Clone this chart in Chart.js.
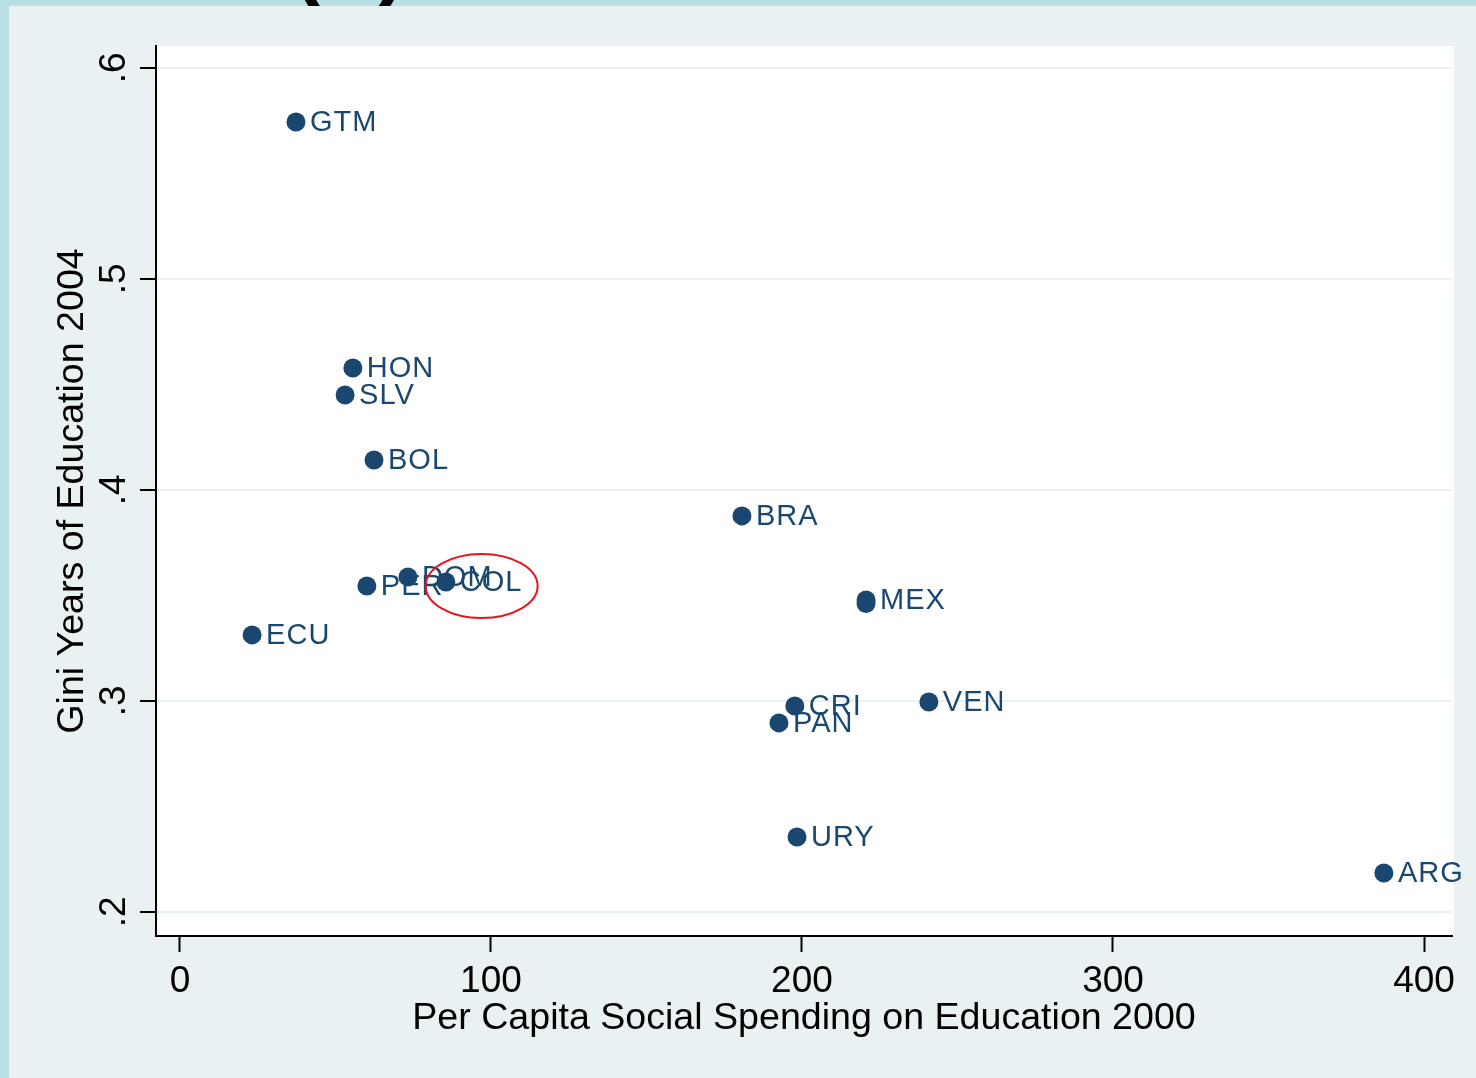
<!DOCTYPE html>
<html>
<head>
<meta charset="utf-8">
<script src="https://cdn.jsdelivr.net/npm/chart.js@4/dist/chart.umd.min.js"></script>
<style>
  html, body { margin: 0; padding: 0; }
  body { width: 1476px; height: 1078px; background: #b9dfe2; position: relative; overflow: hidden; }
  #panel { position: absolute; left: 9px; top: 6px; width: 1467px; height: 1072px; background: #e9f1f2; }
  #tag { position: absolute; left: 292px; top: -82px; font: bold 84px "Liberation Sans", Arial, sans-serif; color: #000; z-index: 0; letter-spacing: 6px; line-height: 1; }
  #wrap { position: absolute; left: 9px; top: 6px; width: 1467px; height: 1072px; }
</style>
</head>
<body>
<div id="tag">(a)</div>
<div id="panel"></div>
<div id="wrap"><canvas id="c" width="1467" height="1072"></canvas></div>
<script>
// ---- data ----
const countries = ['GTM','HON','SLV','BOL','BRA','DOM','PER','COL','MEX','MEX','ECU','CRI','PAN','VEN','URY','ARG'];
const showLabel = [true,true,true,true,true,true,true,true,true,false,true,true,true,true,true,true];
const spending  = [37.3, 55.6, 53.1, 62.4, 180.7, 73.3, 60.1, 85.5, 220.6, 220.6, 23.2, 197.7, 192.6, 240.8, 198.4, 387.1];
const giniEdu   = [0.5744, 0.4578, 0.445, 0.4142, 0.3877, 0.3588, 0.3545, 0.3564, 0.3479, 0.3462, 0.3313, 0.2976, 0.2896, 0.2995, 0.2355, 0.2185];
const xTicks = [0, 100, 200, 300, 400];
const xTickLabels = ['0', '100', '200', '300', '400'];
const yTicks = [0.2, 0.3, 0.4, 0.5, 0.6];
const yTickLabels = ['.2', '.3', '.4', '.5', '.6'];
const highlight = { x: 97, y: 0.3545 }; // red ellipse centre (data units)

const FONT = '"Liberation Sans", Arial, Helvetica, sans-serif';
const NAVY = '#1a476f';

const pts = spending.map((x, i) => ({ x, y: giniEdu[i] }));

const labelPlugin = {
  id: 'pointLabels',
  afterDatasetsDraw(chart) {
    const ctx = chart.ctx;
    const meta = chart.getDatasetMeta(0);
    ctx.save();
    ctx.font = '29px ' + FONT;
    ctx.fillStyle = NAVY;
    ctx.textAlign = 'left';
    ctx.textBaseline = 'middle';
    if ('letterSpacing' in ctx) ctx.letterSpacing = '1px';
    meta.data.forEach((el, i) => {
      if (!showLabel[i]) return;
      ctx.fillText(countries[i], el.x + 14, el.y + 1);
    });
    if ('letterSpacing' in ctx) ctx.letterSpacing = '0px';
    // red ellipse
    const xs = chart.scales.x, ys = chart.scales.y;
    ctx.beginPath();
    ctx.ellipse(xs.getPixelForValue(highlight.x), ys.getPixelForValue(highlight.y), 56, 32, 0, 0, Math.PI * 2);
    ctx.strokeStyle = '#e8141b';
    ctx.lineWidth = 2;
    ctx.stroke();
    ctx.restore();
  }
};

const bgPlugin = {
  id: 'plotBg',
  beforeDraw(chart) {
    const { ctx, chartArea: a } = chart;
    ctx.save();
    ctx.fillStyle = '#ffffff';
    ctx.fillRect(a.left, a.top, a.right - a.left + 2, a.bottom - a.top);
    ctx.restore();
  }
};

new Chart(document.getElementById('c'), {
  type: 'scatter',
  data: {
    datasets: [{
      data: pts,
      backgroundColor: NAVY,
      borderColor: NAVY,
      borderWidth: 0,
      pointRadius: 9.5,
      pointHoverRadius: 9.5
    }]
  },
  options: {
    responsive: false,
    animation: false,
    events: [],
    layout: { padding: { top: 40, right: 24, left: 0, bottom: 0 } },
    plugins: { legend: { display: false }, tooltip: { enabled: false } },
    scales: {
      x: {
        type: 'linear',
        min: -7.7, max: 409,
        afterBuildTicks: s => { s.ticks = xTicks.map(v => ({ value: v })); },
        afterFit: s => { s.height = 142; },
        border: { display: true, color: '#000', width: 2 },
        grid: { drawOnChartArea: false, drawTicks: true, tickLength: 16, tickColor: '#000', tickWidth: 2 },
        ticks: {
          color: '#000', font: { family: FONT, size: 37 }, padding: 8,
          maxRotation: 0, minRotation: 0,
          callback: (v) => { const i = xTicks.indexOf(v); return i >= 0 ? xTickLabels[i] : ''; }
        },
        title: {
          display: true, text: 'Per Capita Social Spending on Education 2000',
          color: '#000', font: { family: FONT, size: 37.6 }, padding: { top: 0, bottom: 37 }
        }
      },
      y: {
        type: 'linear',
        min: 0.1886, max: 0.6104,
        afterBuildTicks: s => { s.ticks = yTicks.map(v => ({ value: v })); },
        afterFit: s => { s.width = 147; },
        border: { display: true, color: '#000', width: 2 },
        grid: { color: '#e9f1f2', lineWidth: 2, drawTicks: true, tickLength: 16, tickColor: '#000', tickWidth: 2 },
        ticks: {
          color: '#000', font: { family: FONT, size: 37 }, padding: 10,
          minRotation: 90, maxRotation: 90, crossAlign: 'center',
          callback: (v) => { const i = yTicks.findIndex(t => Math.abs(t - v) < 1e-9); return i >= 0 ? yTickLabels[i] : ''; }
        },
        title: {
          display: true, text: 'Gini Years of Education 2004',
          color: '#000', font: { family: FONT, size: 37.6 }, padding: { top: 41, bottom: 0 }
        }
      }
    }
  },
  plugins: [bgPlugin, labelPlugin]
});
</script>
</body>
</html>
